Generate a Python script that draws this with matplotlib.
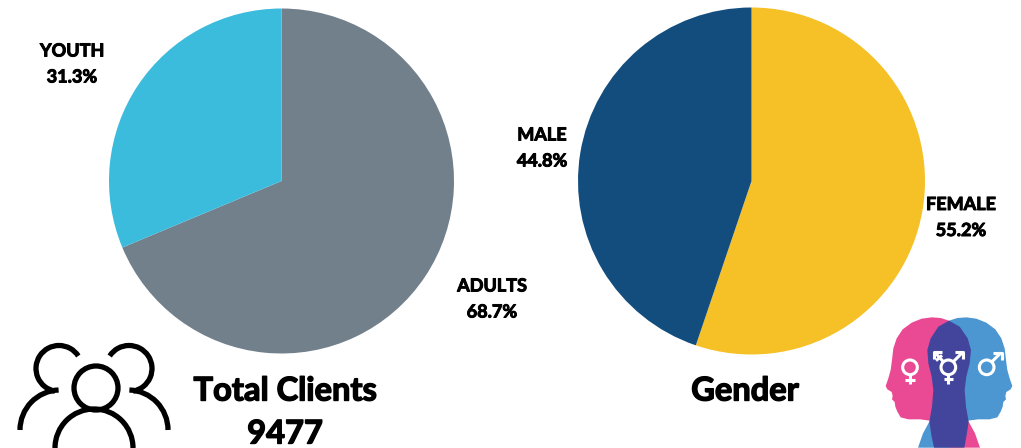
import numpy as np
import matplotlib
matplotlib.use('Agg')
import matplotlib.pyplot as plt
import matplotlib.patheffects as pe
from matplotlib.patches import Arc, Circle, Polygon

plt.rcParams['font.family'] = ['Lato', 'DejaVu Sans']

W, H = 1021, 448

# data
client_labels = ['ADULTS', 'YOUTH']
client_shares = [68.7, 31.3]
client_colors = ['#72808c', '#3bbcdc']
gender_labels = ['FEMALE', 'MALE']
gender_shares = [55.2, 44.8]
gender_colors = ['#f6c027', '#134d7e']
total_clients = 9477


def draw_pie(fig, cx, cy, r, shares, colors):
    ax = fig.add_axes([(cx - r) / W, 1 - (cy + r) / H, 2 * r / W, 2 * r / H])
    ax.pie(shares, colors=colors, startangle=90, counterclock=False, radius=1)
    ax.set_xlim(-1, 1)
    ax.set_ylim(-1, 1)
    ax.axis('off')


fig = plt.figure(figsize=(W / 100, H / 100), dpi=100, facecolor='white')
draw_pie(fig, 281.5, 181, 172.5, client_shares, client_colors)
draw_pie(fig, 751.5, 181, 173.5, gender_shares, gender_colors)

# overlay in pixel coords for the texts and icons
ov = fig.add_axes([0, 0, 1, 1], facecolor='none')
ov.set_xlim(0, W)
ov.set_ylim(H, 0)
ov.axis('off')

thick_small = [pe.withStroke(linewidth=0.7, foreground='black')]
thick_big = [pe.withStroke(linewidth=1.0, foreground='black')]


def label(x, y, name, val):
    ov.text(x, y, name, ha='center', va='center', fontsize=13, fontweight='bold', color='black',
            path_effects=thick_small)
    ov.text(x, y + 26, f'{val}%', ha='center', va='center', fontsize=13, fontweight='bold', color='black',
            path_effects=thick_small)


label(492, 286, client_labels[0], client_shares[0])
label(72, 51, client_labels[1], client_shares[1])
label(961, 204.5, gender_labels[0], gender_shares[0])
label(542, 135, gender_labels[1], gender_shares[1])

ov.text(285, 391, 'Total Clients', ha='center', va='center', fontsize=23.5, fontweight='bold', color='black',
        path_effects=thick_big)
ov.text(285, 434, str(total_clients), ha='center', va='center', fontsize=23.5, fontweight='bold', color='black',
        path_effects=thick_big)
ov.text(745, 391, 'Gender', ha='center', va='center', fontsize=23.5, fontweight='bold', color='black',
        path_effects=thick_big)

# people icon
lw = 3.8
ov.add_patch(Circle((96, 388), 22, fill=False, ec='black', lw=lw))
ov.add_patch(Arc((94, 448), 78, 78, theta1=180, theta2=360, ec='black', lw=lw))
# y axis is inverted, so arc angles run clockwise on screen
ov.add_patch(Arc((59, 368.5), 46, 46, theta1=100, theta2=327, ec='black', lw=lw))
ov.add_patch(Arc((129, 368.5), 46, 46, theta1=213, theta2=80, ec='black', lw=lw))
ov.add_patch(Arc((60, 430), 80, 80, theta1=180, theta2=268, ec='black', lw=lw))
ov.add_patch(Arc((128, 430), 80, 80, theta1=272, theta2=360, ec='black', lw=lw))


# gender heads icon, outline taken from the 3x crop
def zx(v):
    return 870 + np.asarray(v, float) / 3


def zy(v):
    return 310 + np.asarray(v, float) / 3


def zpoly(pts, color):
    pts = np.array(pts, float)
    ov.add_patch(Polygon(np.c_[zx(pts[:, 0]), zy(pts[:, 1])], closed=True, fc=color, ec='none'))


head = [(237, 32), (212, 24), (185, 22), (155, 26), (125, 38), (98, 58), (80, 85), (70, 115), (66, 150),
        (62, 180), (55, 205), (47, 228), (52, 238), (65, 246), (68, 258), (66, 268), (74, 276), (76, 290),
        (82, 305), (92, 322), (115, 328), (150, 328), (180, 332), (237, 340)]
body = [(237, 340), (296, 335), (315, 370), (330, 413), (237, 413)]
pink = head + body[1:]
blue = [(474 - x, y) for x, y in pink]
zpoly(pink, '#ea4a94')
zpoly(blue, '#4c97d2')
zpoly([(237, 32), (205, 50), (182, 85), (172, 120), (175, 160), (185, 200), (190, 240), (186, 290), (178, 335),
       (184, 375), (192, 413), (283, 413), (290, 375), (296, 335), (288, 290), (284, 240), (289, 200),
       (299, 160), (303, 120), (293, 85), (269, 50)], '#43459c')

white = 2.2


def zline(pts):
    pts = np.array(pts, float)
    ov.plot(zx(pts[:, 0]), zy(pts[:, 1]), color='white', lw=white, solid_capstyle='butt')


def zring(x, y):
    ov.add_patch(Circle((zx(x), zy(y)), 22 / 3, fill=False, ec='white', lw=white))


zring(120, 172)
zline([(120, 194), (120, 222)])
zline([(106, 210), (134, 210)])

zring(235, 172)
zline([(235, 194), (235, 222)])
zline([(221, 208), (249, 208)])
zline([(220, 155), (195, 128)])
zline([(250, 155), (277, 128)])
zline([(192, 148), (192, 126), (216, 126)])
zline([(254, 126), (280, 126), (280, 148)])
zline([(198, 152), (216, 136)])

zring(350, 172)
zline([(366, 155), (393, 128)])
zline([(370, 128), (395, 128), (395, 150)])

fig.savefig('out.png', dpi=100)
